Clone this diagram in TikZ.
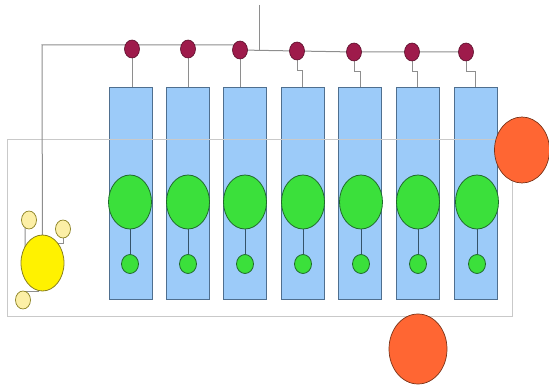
\documentclass[tikz,border=0pt]{standalone}
\usetikzlibrary{calc,shapes.geometric}
\definecolor{wire}{HTML}{8E8E8E}
\definecolor{frame}{HTML}{C9C9C9}
\definecolor{tank}{HTML}{9CCBF9}
\definecolor{tankedge}{HTML}{4F6F8F}
\definecolor{grn}{HTML}{3BE03B}
\definecolor{grnedge}{HTML}{1F6A2A}
\definecolor{stem}{HTML}{35536A}
\definecolor{valve}{HTML}{9E1B4B}
\definecolor{valveedge}{HTML}{5A0E2A}
\definecolor{yel}{HTML}{FFF200}
\definecolor{yeledge}{HTML}{8A8020}
\definecolor{pale}{HTML}{FCEFA6}
\definecolor{org}{HTML}{FF6633}
\definecolor{orgedge}{HTML}{7A3318}
\pgfdeclarelayer{tanks}
\pgfdeclarelayer{wires}
\pgfsetlayers{tanks,wires,main}
\tikzset{
  wireline/.style={draw=wire, line width=1pt},
  tankbox/.style={draw=tankedge, fill=tank, line width=0.9pt, minimum width=43pt, minimum height=212pt, inner sep=0pt},
  bigball/.style={ellipse, draw=grnedge, fill=grn, line width=0.8pt, minimum width=43pt, minimum height=54pt, inner sep=0pt},
  smallball/.style={ellipse, draw=grnedge, fill=grn, line width=0.8pt, minimum width=17pt, minimum height=19pt, inner sep=0pt},
  valvedot/.style={ellipse, draw=valveedge, fill=valve, line width=0.6pt, minimum width=15pt, minimum height=18pt, inner sep=0pt},
  yelbig/.style={ellipse, draw=yeledge, fill=yel, line width=0.8pt, minimum width=43pt, minimum height=56pt, inner sep=0pt},
  yelsmall/.style={ellipse, draw=yeledge, fill=pale, line width=0.7pt, minimum width=15pt, minimum height=18pt, inner sep=0pt},
  orgball/.style={ellipse, draw=orgedge, fill=org, line width=0.7pt, inner sep=0pt},
}
\begin{document}
\begin{tikzpicture}[x=1pt,y=-1pt]
\useasboundingbox (0,0) rectangle (549,385);
% tanks and outer frame
\begin{pgfonlayer}{tanks}
\foreach \i/\cx in {1/130.5,2/187.5,3/245,4/302.5,5/360,6/417.5,7/475.5}{
  \node[tankbox] (t\i) at (\cx,193) {};
}
\draw[frame, line width=1pt] (7,140) rectangle (512,316);
\end{pgfonlayer}
% green balls
\foreach \i/\cx in {1/130,2/188,3/245,4/303,5/361,6/418,7/477}{
  \node[bigball] (g\i) at (\cx,202) {};
  \node[smallball] (s\i) at (\cx,264) {};
  \draw[stem, line width=0.9pt] (g\i.south) -- (s\i.north);
}
% valves
\coordinate (feed) at (259,5);
\coordinate (tee) at (259,50);
\coordinate (corner) at (42,45);
\coordinate (fl) at (7,0);
\node[valvedot] (v1) at (132,49) {};
\node[valvedot] (v2) at (188,49) {};
\node[valvedot] (v3) at (240,50) {};
\node[valvedot] (v4) at (297,51) {};
\node[valvedot] (v5) at (354,52) {};
\node[valvedot] (v6) at (412,52) {};
\node[valvedot] (v7) at (466,52) {};
% yellow group
\node[yelbig] (Y) at (42.5,263) {};
\node[yelsmall] (ya) at (29,220) {};
\node[yelsmall] (yb) at (63,229) {};
\node[yelsmall] (yc) at (23,300) {};
% orange balls
\node[orgball, minimum width=55pt, minimum height=66pt] (o1) at (522,150) {};
\node[orgball, minimum width=58pt, minimum height=70pt] (o2) at (418,349) {};
% wiring behind the nodes
\begin{pgfonlayer}{wires}
\draw[wireline] (feed) -- (tee);
\draw[wireline] (Y.center) -- (corner) -- (v1.center |- corner) -- (v2.center |- corner) -- (v3.center |- corner);
\draw[wireline] (v3.center) -- (v4.center) -- (v5.center) -- (v6.center) -- (v7.center);
\foreach \i in {1,2,3}{
  \draw[wireline] (v\i.center) -- (v\i.center |- t\i.north);
}
\foreach \i in {4,5,6,7}{
  \draw[wireline] (v\i.center) -- ++(0,20) -| (t\i.north);
}
\draw[wireline] (ya.center) -- ++(-4,6) -- ($(ya.center)+(-4,6)$ -| fl) |- (Y.center);
\draw[wireline] (yb.center) -- ++(0,14) -- ++(-8,0);
\draw[wireline] (yc.center) -- ++(0,-9) -- ++(16,0);
\end{pgfonlayer}
\end{tikzpicture}
\end{document}
